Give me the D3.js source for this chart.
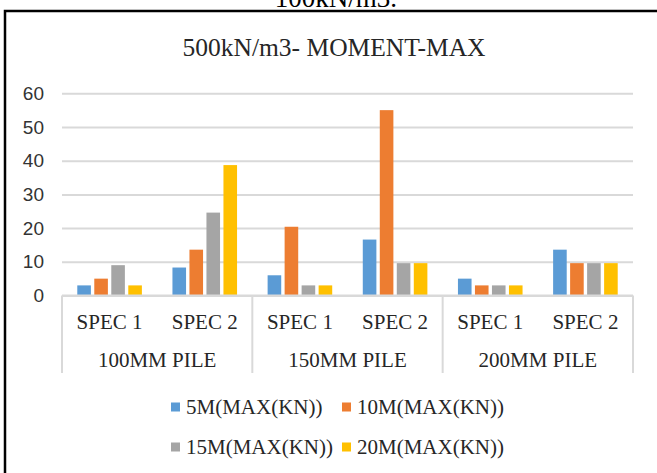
<!DOCTYPE html>
<html>
<head>
<meta charset="utf-8">
<script src="https://cdn.jsdelivr.net/npm/d3@7"></script>
<style>
  body { margin:0; background:#ffffff; }
  svg { display:block; }
</style>
</head>
<body>
<div id="chart"></div>
<script>
var groups = ["100MM PILE", "150MM PILE", "200MM PILE"];
var specs = ["SPEC 1", "SPEC 2"];
var seriesNames = ["5M(MAX(KN))", "10M(MAX(KN))", "15M(MAX(KN))", "20M(MAX(KN))"];
var seriesColours = ["#5b9bd5", "#ed7d31", "#a5a5a5", "#ffc000"];
// one value per group/spec, in order
var values5m  = [3, 8.3, 6, 16.6, 5, 13.6];
var values10m = [5, 13.6, 20.4, 55, 3, 9.6];
var values15m = [9, 24.6, 3, 9.6, 3, 9.6];
var values20m = [3, 38.7, 3, 9.6, 3, 9.6];
var yTicks = [0, 10, 20, 30, 40, 50, 60];

var seriesValues = [values5m, values10m, values15m, values20m];

var W = 657, H = 473;
var svg = d3.select("#chart").append("svg")
  .attr("width", W)
  .attr("height", H);

// frame of the figure (cut off on the right and bottom)
svg.append("rect")
  .attr("x", 5).attr("y", 11)
  .attr("width", 700).attr("height", 500)
  .attr("fill", "none")
  .attr("stroke", "#000")
  .attr("stroke-width", 2.5);

// caption above the frame, mostly cut off
svg.append("text")
  .attr("x", 336).attr("y", 7)
  .attr("text-anchor", "middle")
  .style("font-family", "Liberation Serif")
  .style("font-size", "27px")
  .style("fill", "#000")
  .text("100kN/m3.");

svg.append("text")
  .attr("x", 334).attr("y", 56)
  .attr("text-anchor", "middle")
  .style("font-family", "Liberation Serif")
  .style("font-size", "25.5px")
  .style("fill", "#262626")
  .text("500kN/m3- MOMENT-MAX");

var plotLeft = 62, plotRight = 633, plotTop = 93.3, plotBottom = 295.5;

var y = d3.scaleLinear().domain([0, 60]).range([plotBottom, plotTop]);

var cats = [];
groups.forEach(function(g) {
  specs.forEach(function(s) { cats.push(g + "|" + s); });
});

var x = d3.scaleBand().domain(cats).range([plotLeft, plotRight]).padding(0);
var xGroup = d3.scaleBand().domain(groups).range([plotLeft, plotRight]).padding(0);
var xInner = d3.scaleBand().domain(seriesNames).range([-34, 34])
  .paddingInner(0.2).paddingOuter(0.1);

// gridlines
svg.append("g")
  .attr("class", "grid")
  .attr("transform", "translate(" + plotLeft + ",0)")
  .call(d3.axisLeft(y).tickValues(yTicks).tickSize(-(plotRight - plotLeft)).tickFormat(""))
  .call(function(g) {
    g.select(".domain").remove();
    g.selectAll("line").attr("stroke", "#d9d9d9").attr("stroke-width", 2);
  });

// y labels
svg.append("g")
  .attr("transform", "translate(44,0)")
  .call(d3.axisLeft(y).tickValues(yTicks).tickSize(0).tickPadding(0))
  .call(function(g) {
    g.select(".domain").remove();
    g.selectAll("text")
      .style("font-family", "Liberation Sans")
      .style("font-size", "19px")
      .style("fill", "#333");
  });

// bars
seriesValues.forEach(function(vals, si) {
  svg.append("g")
    .selectAll("rect")
    .data(vals)
    .enter()
    .append("rect")
    .attr("x", function(d, i) {
      return x(cats[i]) + x.bandwidth() / 2 + xInner(seriesNames[si]);
    })
    .attr("y", function(d) { return y(d); })
    .attr("width", xInner.bandwidth())
    .attr("height", function(d) { return y(0) - y(d); })
    .attr("fill", seriesColours[si]);
});

// category axis with separators
var sepX = groups.map(function(g) { return xGroup(g); }).concat([plotRight]);
svg.append("g")
  .selectAll("line")
  .data(sepX)
  .enter()
  .append("line")
  .attr("x1", function(d) { return d; })
  .attr("x2", function(d) { return d; })
  .attr("y1", plotBottom)
  .attr("y2", 373)
  .attr("stroke", "#d9d9d9")
  .attr("stroke-width", 2);

svg.append("line")
  .attr("x1", plotLeft).attr("x2", plotRight)
  .attr("y1", plotBottom).attr("y2", plotBottom)
  .attr("stroke", "#d9d9d9")
  .attr("stroke-width", 2);

svg.append("g")
  .selectAll("text")
  .data(cats)
  .enter()
  .append("text")
  .attr("x", function(d) { return x(d) + x.bandwidth() / 2; })
  .attr("y", 329)
  .attr("text-anchor", "middle")
  .style("font-family", "Liberation Serif")
  .style("font-size", "21px")
  .style("fill", "#262626")
  .text(function(d) { return d.split("|")[1]; });

svg.append("g")
  .selectAll("text")
  .data(groups)
  .enter()
  .append("text")
  .attr("x", function(d) { return xGroup(d) + xGroup.bandwidth() / 2; })
  .attr("y", 367)
  .attr("text-anchor", "middle")
  .style("font-family", "Liberation Serif")
  .style("font-size", "21px")
  .style("fill", "#262626")
  .text(function(d) { return d; });

// legend, two columns
var legend = svg.append("g")
  .selectAll(".legendEntry")
  .data(seriesNames)
  .enter()
  .append("g")
  .attr("class", "legendEntry")
  .attr("transform", function(d, i) {
    var lx = i % 2 == 0 ? 171 : 342;
    var ly = i < 2 ? 407 : 447;
    return "translate(" + lx + "," + ly + ")";
  });

legend.append("rect")
  .attr("x", 0).attr("y", -4.5)
  .attr("width", 9).attr("height", 9)
  .attr("fill", function(d, i) { return seriesColours[i]; });

legend.append("text")
  .attr("x", 15).attr("y", 7)
  .style("font-family", "Liberation Serif")
  .style("font-size", "21px")
  .style("fill", "#262626")
  .text(function(d) { return d; });
</script>
</body>
</html>
